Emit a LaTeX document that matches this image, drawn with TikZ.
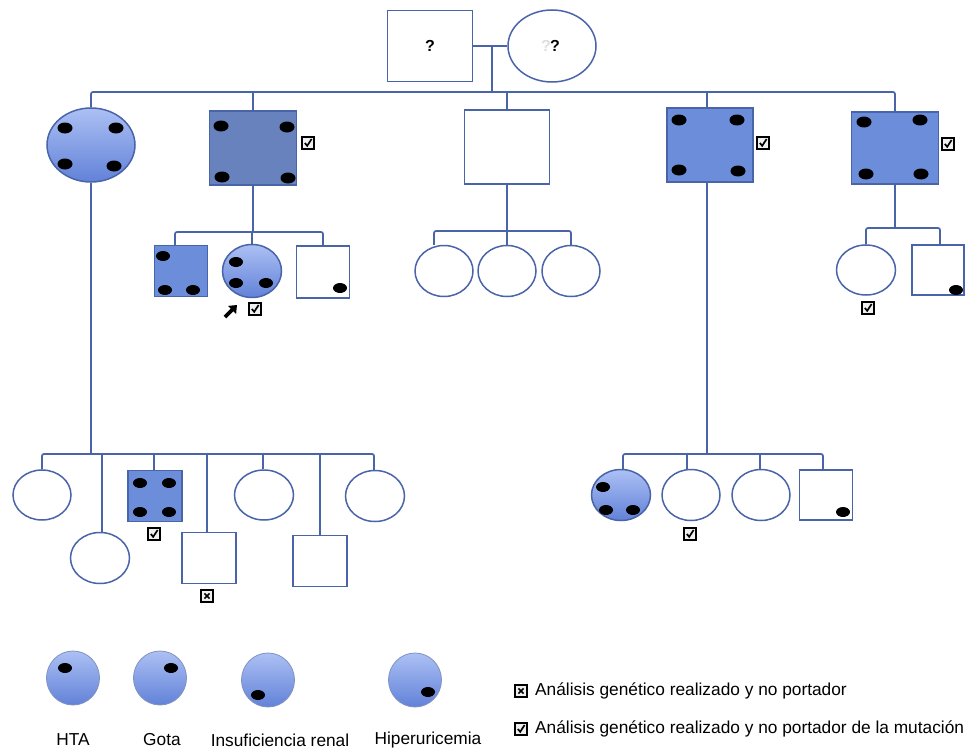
\documentclass[tikz,border=0pt]{standalone}
\usepackage{fontspec}
\setmainfont{Liberation Sans}
\usetikzlibrary{shapes.geometric,arrows.meta}
\definecolor{lc}{RGB}{74,100,170}
\definecolor{cdark}{RGB}{104,130,190}
\definecolor{cblue}{RGB}{108,142,218}
\definecolor{gtop}{RGB}{172,192,244}
\definecolor{gbot}{RGB}{98,130,216}
\tikzset{
  conn/.style={draw=lc,line width=1.7pt},
  male/.style={rectangle,draw=lc,line width=1.5pt,fill=white,inner sep=0pt},
  female/.style={ellipse,draw=lc,line width=1.5pt,fill=white,inner sep=0pt},
  grad/.style={top color=gtop,bottom color=gbot},
  dot/.style={ellipse,fill=black,inner sep=0pt,minimum width=15pt,minimum height=11pt},
  sdot/.style={ellipse,fill=black,inner sep=0pt,minimum width=14pt,minimum height=10pt},
  lbl/.style={font=\fontsize{17.3}{20}\selectfont,inner sep=0pt},
  chk/.pic={\draw[line width=1.2pt,fill=gray!12] (-6,-6) rectangle (6,6);
            \draw[line width=1.7pt] (-3.2,0) -- (-0.8,2.8) -- (3.6,-4);},
  xbx/.pic={\draw[line width=1.2pt,fill=gray!12] (-6,-6) rectangle (6,6);
            \draw[line width=1.6pt] (-2.6,-2.6) -- (2.6,2.6) (-2.6,2.6) -- (2.6,-2.6);}
}
\begin{document}
\begin{tikzpicture}[x=1pt,y=-1pt]
\useasboundingbox[fill=white] (0,0) rectangle (966,752);
% parents
\node[male,minimum width=85pt,minimum height=71pt] (P1) at (430,46) {};
\node[female,minimum width=88pt,minimum height=72pt] (P2) at (552,46) {};
\node[font=\bfseries\fontsize{16}{18}\selectfont] (q1) at (430,46) {?};
\node[font=\bfseries\fontsize{16}{18}\selectfont,text=gray!25] (q2g) at (546,46) {?};
\node[font=\bfseries\fontsize{16}{18}\selectfont] (q2) at (555,46) {?};
\coordinate (m0) at (492,46);
\coordinate (s1) at (0,92);
% generation II
\node[female,grad,minimum width=88pt,minimum height=74pt] (I1) at (91,145) {};
\node[male,fill=cdark,minimum width=87pt,minimum height=74pt] (I2) at (253,148) {};
\node[male,minimum width=85pt,minimum height=74pt] (I3) at (507,147) {};
\node[male,fill=cblue,minimum width=86pt,minimum height=74pt] (I4) at (710,145) {};
\node[male,fill=cblue,minimum width=87pt,minimum height=72pt] (I5) at (895,148) {};
\draw[conn] (P1.east) -- (P2.west);
\draw[conn] (m0) -- (m0 |- s1);
\draw[conn,rounded corners=2pt] (I1.north) |- (I5.north |- s1) -- (I5.north);
\draw[conn] (I2.north) -- (I2.north |- s1);
\draw[conn] (I3.north) -- (I3.north |- s1);
\draw[conn] ([xshift=-3pt]I4.north) -- ([xshift=-3pt]I4.north |- s1);
% dots gen II
\node[dot] (d1) at (65,128) {};
\node[dot] (d2) at (116,128) {};
\node[dot] (d3) at (65,164) {};
\node[dot] (d4) at (114,166) {};
\node[dot] (d5) at (221,126) {};
\node[dot] (d6) at (287,127) {};
\node[dot] (d7) at (222,177) {};
\node[dot] (d8) at (288,178) {};
\node[dot] (d9) at (679,120) {};
\node[dot] (d10) at (737,120) {};
\node[dot] (d11) at (679,170) {};
\node[dot] (d12) at (738,171) {};
\node[dot] (d13) at (864,122) {};
\node[dot] (d14) at (920,120) {};
\node[dot] (d15) at (866,174) {};
\node[dot] (d16) at (921,174) {};
\pic at (308,143) {chk};
\pic at (763,143) {chk};
\pic at (948,144) {chk};
% children of I2
\coordinate (s2) at (0,232);
\node[male,fill=cblue,minimum width=53pt,minimum height=51pt] (Ga) at (181,271) {};
\node[female,grad,minimum width=59pt,minimum height=53pt] (Gb) at (252,271) {};
\node[male,minimum width=53pt,minimum height=52pt] (Gc) at (323,272) {};
\draw[conn] (I2.south) -- (I2.south |- s2);
\draw[conn,rounded corners=2pt] ([xshift=-6pt]Ga.north) |- (Gc.north |- s2) -- (Gc.north);
\draw[conn] (Gb.north) -- (Gb.north |- s2);
\node[sdot] (d17) at (163,256) {};
\node[sdot] (d18) at (165,290) {};
\node[sdot] (d19) at (193,290) {};
\node[sdot] (d20) at (236,262) {};
\node[sdot] (d21) at (236,283) {};
\node[sdot] (d22) at (266,283) {};
\node[sdot] (d23) at (340,288) {};
\draw[line width=3.6pt,-{Triangle[length=7pt,width=11pt]}] (225,317) -- (237,305);
\pic at (255,309) {chk};
% children of I3
\coordinate (s3) at (0,231);
\node[female,minimum width=58pt,minimum height=51pt] (H1) at (444,271) {};
\node[female,minimum width=58pt,minimum height=51pt] (H2) at (507,271) {};
\node[female,minimum width=58pt,minimum height=51pt] (H3) at (571,271) {};
\draw[conn] (I3.south) -- (I3.south |- s3);
\draw[conn,rounded corners=2pt] ([xshift=-10pt]H1.north) |- (H3.north |- s3) -- (H3.north);
\draw[conn] (H2.north) -- (H2.north |- s3);
% children of I5
\coordinate (s4) at (0,228);
\node[female,minimum width=59pt,minimum height=50pt] (J1) at (866,270) {};
\node[male,minimum width=52pt,minimum height=50pt] (J2) at (938,270) {};
\draw[conn] (I5.south) -- (I5.south |- s4);
\draw[conn,rounded corners=2pt] (J1.north) |- ([xshift=2pt]J2.north |- s4) -- ([xshift=2pt]J2.north);
\node[sdot] (d24) at (956,290) {};
\pic at (868,308) {chk};
% children of I1
\coordinate (s5) at (0,454);
\node[female,minimum width=58pt,minimum height=50pt] (K1) at (42,495) {};
\node[female,minimum width=59pt,minimum height=51pt] (K2) at (100,558) {};
\node[male,fill=cblue,minimum width=54pt,minimum height=51pt] (K3) at (155,496) {};
\node[male,minimum width=54pt,minimum height=51pt] (K4) at (209,558) {};
\node[female,minimum width=59pt,minimum height=50pt] (K5) at (264,495) {};
\node[male,minimum width=54pt,minimum height=51pt] (K6) at (320,561) {};
\node[female,minimum width=59pt,minimum height=51pt] (K7) at (375,496) {};
\draw[conn] (I1.south) -- (I1.south |- s5);
\draw[conn,rounded corners=2pt] (K1.north) |- ([xshift=-1pt]K7.north |- s5) -- ([xshift=-1pt]K7.north);
\draw[conn] ([xshift=2pt]K2.north) -- ([xshift=2pt]K2.north |- s5);
\draw[conn] ([xshift=-1pt]K3.north) -- ([xshift=-1pt]K3.north |- s5);
\draw[conn] ([xshift=-2pt]K4.north) -- ([xshift=-2pt]K4.north |- s5);
\draw[conn] ([xshift=-1pt]K5.north) -- ([xshift=-1pt]K5.north |- s5);
\draw[conn] (K6.north) -- (K6.north |- s5);
\node[sdot] (d25) at (140,483) {};
\node[sdot] (d26) at (169,483) {};
\node[sdot] (d27) at (140,512) {};
\node[sdot] (d28) at (169,512) {};
\pic at (154,534) {chk};
\pic at (207,596) {xbx};
% children of I4
\node[female,grad,minimum width=59pt,minimum height=51pt] (L1) at (621,495) {};
\node[female,minimum width=58pt,minimum height=51pt] (L2) at (691,495) {};
\node[female,minimum width=58pt,minimum height=51pt] (L3) at (761,495) {};
\node[male,minimum width=53pt,minimum height=50pt] (L4) at (826,495) {};
\draw[conn] ([xshift=-3pt]I4.south) -- ([xshift=-3pt]I4.south |- s5);
\draw[conn,rounded corners=2pt] ([xshift=2pt]L1.north) |- ([xshift=-3pt]L4.north |- s5) -- ([xshift=-3pt]L4.north);
\draw[conn] ([xshift=-4pt]L2.north) -- ([xshift=-4pt]L2.north |- s5);
\draw[conn] ([xshift=-1pt]L3.north) -- ([xshift=-1pt]L3.north |- s5);
\node[sdot] (d29) at (603,487) {};
\node[sdot] (d30) at (606,510) {};
\node[sdot] (d31) at (633,510) {};
\node[sdot] (d32) at (843,512) {};
\pic at (690,534) {chk};
% legend
\node[female,grad,draw=lc!70,line width=0.8pt,minimum width=53pt,minimum height=54pt] (A1) at (73,678) {};
\node[female,grad,draw=lc!70,line width=0.8pt,minimum width=53pt,minimum height=54pt] (A2) at (160,678) {};
\node[female,grad,draw=lc!70,line width=0.8pt,minimum width=53pt,minimum height=54pt] (A3) at (268,680) {};
\node[female,grad,draw=lc!70,line width=0.8pt,minimum width=53pt,minimum height=54pt] (A4) at (415,680) {};
\node[sdot] (e1) at (65,668) {};
\node[sdot] (e2) at (171,668) {};
\node[sdot] (e3) at (258,695) {};
\node[sdot] (e4) at (428,692) {};
\node[lbl] (t1) at (73,740) {HTA};
\node[lbl] (t2) at (162,740) {Gota};
\node[lbl] (t3) at (280,740) {Insuficiencia renal};
\node[lbl] (t4) at (428,740) {Hiperuricemia};
\pic at (521,691) {xbx};
\pic at (521,729) {chk};
\node[lbl,anchor=west] (t5) at (535,691) {Análisis genético realizado y no portador};
\node[lbl,anchor=west] (t6) at (535,729) {Análisis genético realizado y no portador de la mutación};
\end{tikzpicture}
\end{document}
